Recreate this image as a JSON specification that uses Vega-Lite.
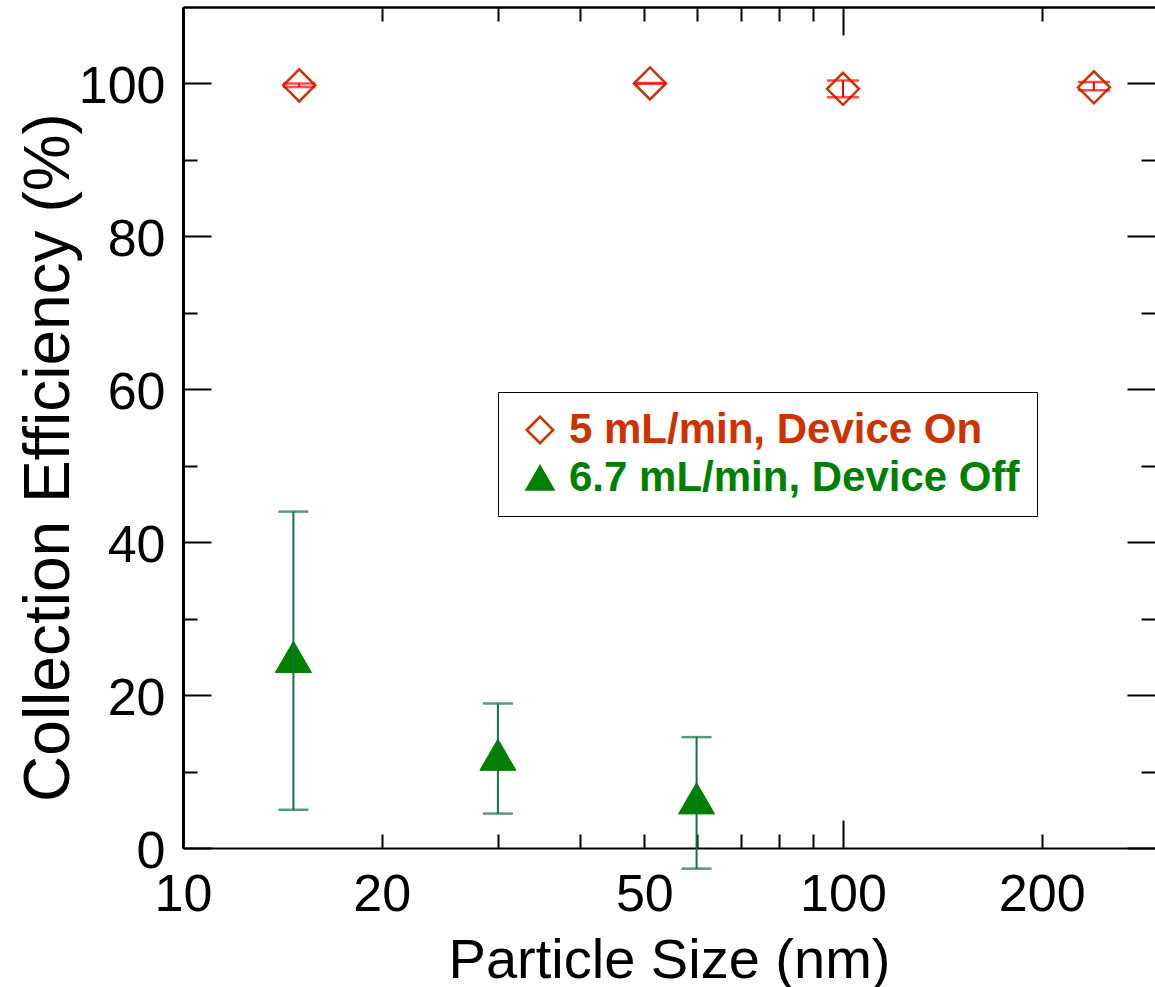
{
  "$schema": "https://vega.github.io/schema/vega-lite/v6.json",
  "width": 972,
  "height": 841,
  "autosize": {"type": "none"},
  "padding": {"left": 183, "top": 7, "right": 0, "bottom": 139},
  "background": "white",
  "config": {
    "view": {"stroke": null},
    "axis": {
      "grid": false,
      "labelFont": "Liberation Sans",
      "titleFont": "Liberation Sans",
      "labelColor": "black",
      "titleColor": "black",
      "tickColor": "black",
      "domainColor": "black",
      "tickWidth": 2,
      "labelFontWeight": "normal",
      "titleFontWeight": "normal",
      "labelFlush": false,
      "labelOverlap": false
    },
    "legend": {
      "orient": "none",
      "legendX": 315,
      "legendY": 385,
      "labelFontSize": 42,
      "labelFont": "Liberation Sans",
      "labelFontWeight": "bold",
      "labelLimit": 1000,
      "symbolSize": 700,
      "symbolStrokeWidth": 2.5,
      "strokeColor": "black",
      "padding": 17,
      "rowPadding": 6,
      "labelOffset": 8,
      "symbolOffset": 4
    }
  },
  "data": {
    "values": [
      {"series": "5 mL/min, Device On", "size": 15, "eff": 99.75, "lo": 99.55, "hi": 100.0},
      {"series": "5 mL/min, Device On", "size": 51, "eff": 100.0, "lo": 99.95, "hi": 100.05},
      {"series": "5 mL/min, Device On", "size": 100, "eff": 99.3, "lo": 98.2, "hi": 100.4},
      {"series": "5 mL/min, Device On", "size": 240, "eff": 99.5, "lo": 99.1, "hi": 100.2},
      {"series": "6.7 mL/min, Device Off", "size": 14.7, "eff": 25.0, "lo": 5.0, "hi": 44.0},
      {"series": "6.7 mL/min, Device Off", "size": 30, "eff": 12.2, "lo": 4.5, "hi": 18.9},
      {"series": "6.7 mL/min, Device Off", "size": 60, "eff": 6.5, "lo": -2.7, "hi": 14.5}
    ]
  },
  "resolve": {"axis": {"x": "independent", "y": "independent"}},
  "layer": [
    {
      "transform": [{"filter": "datum.series === '5 mL/min, Device On'"}],
      "mark": {"type": "point", "size": 1024, "strokeWidth": 2.5, "opacity": 1},
      "encoding": {
        "x": {"field": "size", "type": "quantitative", "scale": {"type": "log", "domain": [10, 297], "nice": false},
          "axis": {"orient": "bottom", "values": [10, 20, 50, 100, 200], "format": "d", "ticks": false, "domain": true, "domainWidth": 2, "labelFontSize": 52, "labelPadding": 21, "title": "Particle Size (nm)", "titleFontSize": 56, "titleBaseline": "alphabetic", "titleY": 129}},
        "y": {"field": "eff", "type": "quantitative", "scale": {"domain": [0, 110], "nice": false, "zero": false},
          "axis": {"orient": "left", "values": [0, 20, 40, 60, 80, 100], "tickSize": -28, "domain": true, "domainWidth": 3, "labelFontSize": 52, "labelPadding": 46, "labelOffset": 3, "title": "Collection Efficiency (%)", "titleFontSize": 64, "titleAngle": -90, "titleBaseline": "alphabetic", "titleX": -115, "titleY": 450}},
        "shape": {"field": "series", "type": "nominal", "scale": {"domain": ["5 mL/min, Device On", "6.7 mL/min, Device Off"], "range": ["diamond", "triangle-up"]},
          "legend": {"title": null, "labelColor": {"expr": "datum.value === '5 mL/min, Device On' ? '#cc3300' : '#008000'"}, "labelExpr": "datum.label + '\\u00a0\\u00a0\\u00a0\\u00a0'"}},
        "stroke": {"field": "series", "type": "nominal", "scale": {"domain": ["5 mL/min, Device On", "6.7 mL/min, Device Off"], "range": ["#cc3300", "#008000"]},
          "legend": {"title": null, "labelColor": {"expr": "datum.value === '5 mL/min, Device On' ? '#cc3300' : '#008000'"}, "labelExpr": "datum.label + '\\u00a0\\u00a0\\u00a0\\u00a0'"}},
        "fill": {"field": "series", "type": "nominal", "scale": {"domain": ["5 mL/min, Device On", "6.7 mL/min, Device Off"], "range": ["transparent", "#008000"]},
          "legend": {"title": null, "labelColor": {"expr": "datum.value === '5 mL/min, Device On' ? '#cc3300' : '#008000'"}, "labelExpr": "datum.label + '\\u00a0\\u00a0\\u00a0\\u00a0'"}}
      }
    },
    {
      "transform": [{"filter": "datum.series === '6.7 mL/min, Device Off'"}],
      "mark": {"type": "point", "size": 1296, "strokeWidth": 1, "opacity": 1},
      "encoding": {
        "x": {"field": "size", "type": "quantitative", "scale": {"type": "log", "domain": [10, 297], "nice": false},
          "axis": {"orient": "bottom", "values": [10, 100], "tickSize": -28, "labels": false, "domain": false, "title": null}},
        "y": {"field": "eff", "type": "quantitative", "scale": {"domain": [0, 110], "nice": false, "zero": false},
          "axis": {"orient": "left", "values": [10, 30, 50, 70, 90], "tickSize": -14, "labels": false, "domain": false, "title": null}},
        "shape": {"field": "series", "type": "nominal"},
        "stroke": {"field": "series", "type": "nominal"},
        "fill": {"field": "series", "type": "nominal"}
      }
    },
    {
      "transform": [{"filter": "datum.series === '5 mL/min, Device On'"}],
      "mark": {"type": "rule", "color": "#ff0000", "strokeWidth": 2},
      "encoding": {
        "x": {"field": "size", "type": "quantitative", "scale": {"type": "log", "domain": [10, 297], "nice": false},
          "axis": {"orient": "bottom", "values": [20, 30, 40, 50, 60, 70, 80, 90, 200], "tickSize": -14, "labels": false, "domain": false, "title": null}},
        "y": {"field": "lo", "type": "quantitative", "scale": {"domain": [0, 110], "nice": false, "zero": false},
          "axis": {"orient": "right", "values": [0, 20, 40, 60, 80, 100], "tickSize": -28, "labels": false, "domain": false, "title": null}},
        "y2": {"field": "hi"}
      }
    },
    {
      "transform": [{"filter": "datum.series === '6.7 mL/min, Device Off'"}],
      "mark": {"type": "rule", "color": "#13703f", "strokeWidth": 2},
      "encoding": {
        "x": {"field": "size", "type": "quantitative", "scale": {"type": "log", "domain": [10, 297], "nice": false},
          "axis": {"orient": "top", "values": [10, 100], "tickSize": -28, "labels": false, "domain": true, "domainWidth": 2.5, "title": null}},
        "y": {"field": "lo", "type": "quantitative", "scale": {"domain": [0, 110], "nice": false, "zero": false},
          "axis": {"orient": "right", "values": [10, 30, 50, 70, 90], "tickSize": -14, "labels": false, "domain": false, "title": null}},
        "y2": {"field": "hi"}
      }
    },
    {
      "transform": [{"filter": "datum.series === '5 mL/min, Device On'"}],
      "mark": {"type": "tick", "orient": "horizontal", "color": "#ff0000", "size": 32, "thickness": 2.5},
      "encoding": {
        "x": {"field": "size", "type": "quantitative", "scale": {"type": "log", "domain": [10, 297], "nice": false},
          "axis": {"orient": "top", "values": [20, 30, 40, 50, 60, 70, 80, 90, 200], "tickSize": -14, "labels": false, "domain": false, "title": null}},
        "y": {"field": "lo", "type": "quantitative", "scale": {"domain": [0, 110], "nice": false, "zero": false}, "axis": null}
      }
    },
    {
      "transform": [{"filter": "datum.series === '5 mL/min, Device On'"}],
      "mark": {"type": "tick", "orient": "horizontal", "color": "#ff0000", "size": 32, "thickness": 2.5},
      "encoding": {
        "x": {"field": "size", "type": "quantitative", "scale": {"type": "log", "domain": [10, 297], "nice": false}, "axis": null},
        "y": {"field": "hi", "type": "quantitative", "scale": {"domain": [0, 110], "nice": false, "zero": false}, "axis": null}
      }
    },
    {
      "transform": [{"filter": "datum.series === '6.7 mL/min, Device Off'"}],
      "mark": {"type": "tick", "orient": "horizontal", "color": "#13703f", "size": 30, "thickness": 2.5},
      "encoding": {
        "x": {"field": "size", "type": "quantitative", "scale": {"type": "log", "domain": [10, 297], "nice": false}, "axis": null},
        "y": {"field": "lo", "type": "quantitative", "scale": {"domain": [0, 110], "nice": false, "zero": false}, "axis": null}
      }
    },
    {
      "transform": [{"filter": "datum.series === '6.7 mL/min, Device Off'"}],
      "mark": {"type": "tick", "orient": "horizontal", "color": "#13703f", "size": 30, "thickness": 2.5},
      "encoding": {
        "x": {"field": "size", "type": "quantitative", "scale": {"type": "log", "domain": [10, 297], "nice": false}, "axis": null},
        "y": {"field": "hi", "type": "quantitative", "scale": {"domain": [0, 110], "nice": false, "zero": false}, "axis": null}
      }
    }
  ]
}
